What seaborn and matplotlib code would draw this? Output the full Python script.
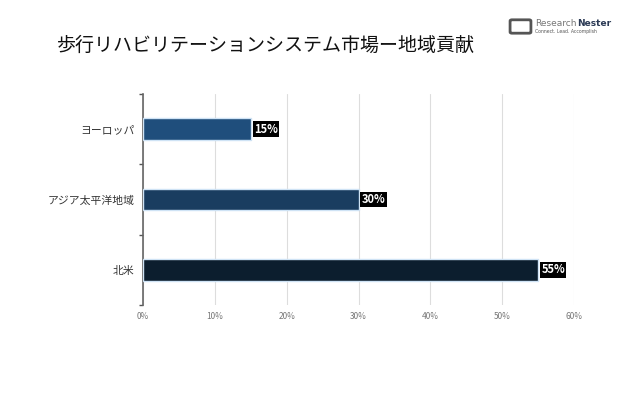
import matplotlib
matplotlib.use("Agg")
import matplotlib.pyplot as plt
import seaborn as sns
import pandas as pd
from matplotlib.patches import FancyBboxPatch

regions = ["ヨーロッパ", "アジア太平洋地域", "北米"]
shares = [15, 30, 55]
colors = ["#1F4E7C", "#1A3D60", "#0C1E2E"]
xticks = [0, 10, 20, 30, 40, 50, 60]
title = "歩行リハビリテーションシステム市場ー地域貢献"

sns.set_theme(style="white")
plt.rcParams['font.family'] = ['Noto Sans CJK JP', 'DejaVu Sans']

df = pd.DataFrame({"region": regions, "share": shares})

fig = plt.figure(figsize=(6.43, 3.98), dpi=100)
ax = fig.add_axes([143/643, 1-305/398, (574-143)/643, (305-94)/398])

sns.barplot(data=df, x="share", y="region", hue="region", palette=colors,
            orient="h", width=0.31, ax=ax, legend=False, saturation=1,
            edgecolor="#cfe3f5", linewidth=1.0, zorder=3)

ax.set_xlim(0, 60)
ax.set_ylim(2.5, -0.5)
ax.set_xticks(xticks)
ax.set_xticklabels([f"{v}%" for v in xticks], fontsize=6, color="#777777")
ax.tick_params(axis="x", length=0, pad=5)

ax.set_yticks([-0.5, 0.5, 1.5, 2.5])
ax.set_yticklabels([])
ax.set_yticks([0, 1, 2], minor=True)
ax.set_yticklabels(regions, minor=True, fontsize=7.8, color="#333333")
ax.tick_params(axis="y", which="major", length=3, width=1, color="#555555", left=True, direction="out")
ax.tick_params(axis="y", which="minor", length=0, pad=6)

ax.set_xlabel("")
ax.set_ylabel("")
ax.grid(axis="x", color="#dddddd", linewidth=0.8, zorder=0)
for s in ["top", "right", "bottom"]:
    ax.spines[s].set_visible(False)
ax.spines["left"].set_color("#666666")
ax.spines["left"].set_linewidth(1.2)

for i, v in enumerate(shares):
    ax.text(v + 0.45, i, f"{v}%", va="center", ha="left", fontsize=8,
            fontweight="bold", color="white", zorder=5,
            bbox=dict(boxstyle="square,pad=0.12", facecolor="black", edgecolor="none"))

fig.text(57/643, 1-45/398, title, fontsize=13.7, color="#111111", va="center", ha="left")

# logo
logo = FancyBboxPatch((512/643, 1-32/398), 17/643, 11/398, boxstyle="round,pad=0.003",
                      transform=fig.transFigure, facecolor="none", edgecolor="#555555", linewidth=2)
fig.patches.append(logo)
fig.text(535/643, 1-23/398, "Research", fontsize=6.5, color="#777777", va="center", ha="left",
         family=["DejaVu Sans"])
fig.text(577/643, 1-23/398, "Nester", fontsize=6.5, color="#2b3a55", fontweight="bold",
         va="center", ha="left", family=["DejaVu Sans"])
fig.text(535/643, 1-32/398, "Connect. Lead. Accomplish", fontsize=3.3, color="#555555",
         va="center", ha="left", family=["DejaVu Sans"])

fig.savefig("out.png", dpi=100)
